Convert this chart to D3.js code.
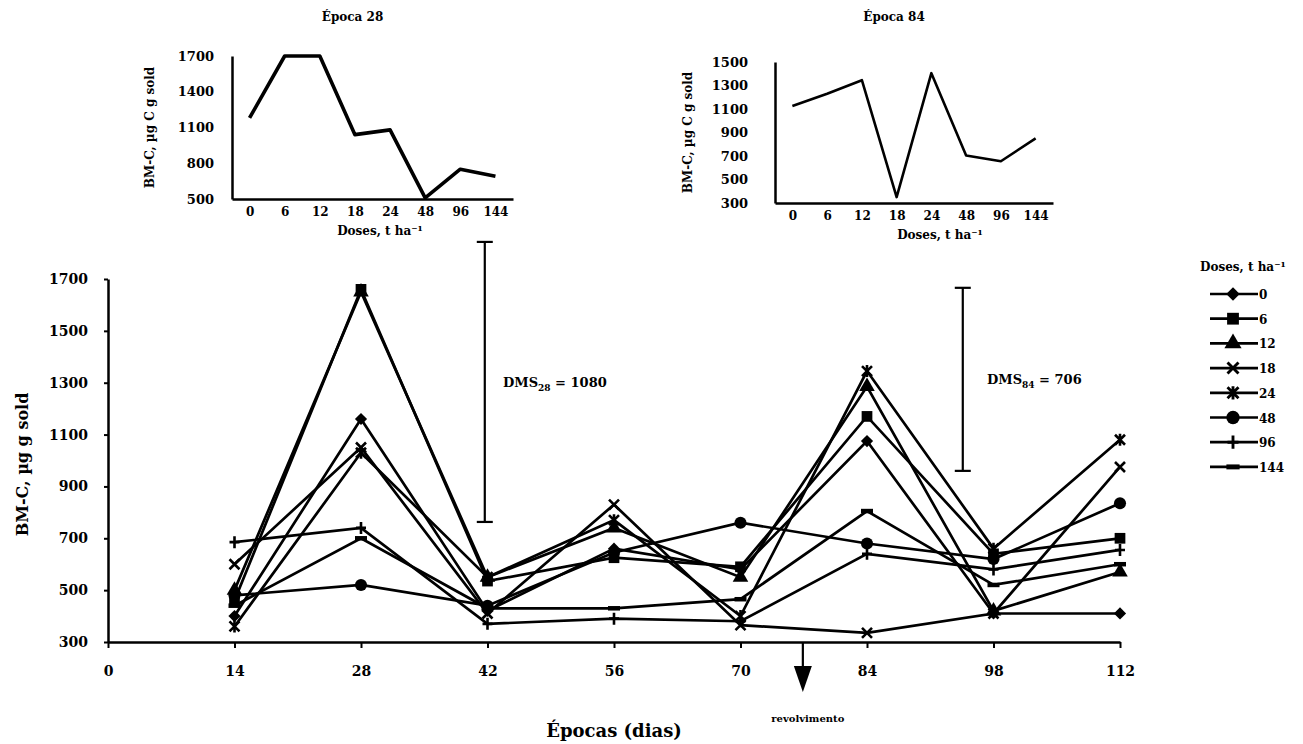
<!DOCTYPE html>
<html>
<head>
<meta charset="utf-8">
<script src="https://cdn.jsdelivr.net/npm/d3@7"></script>
<style>
  body { margin: 0; background: #fff; }
  text { font-family: 'DejaVu Serif', serif; font-weight: bold; fill: #000; }
</style>
</head>
<body>
<script>
// epocas (dias) on the main chart
const epocas = [14, 28, 42, 56, 70, 84, 98, 112];
const doses = ["0", "6", "12", "18", "24", "48", "96", "144"];

// BM-C per dose, one value per epoca
const dose0 = [400, 1160, 420, 660, 580, 1075, 410, 410];
const dose6 = [460, 1660, 535, 625, 590, 1170, 640, 700];
const dose12 = [500, 1650, 550, 740, 550, 1285, 420, 570];
const dose18 = [600, 1050, 410, 830, 365, 335, 410, 975];
const dose24 = [360, 1030, 550, 770, 400, 1345, 660, 1080];
const dose48 = [480, 520, 440, 645, 760, 680, 620, 835];
const dose96 = [685, 740, 370, 390, 380, 640, 580, 655];
const dose144 = [440, 700, 430, 430, 465, 805, 520, 600];

// insets: BM-C by dose at epoca 28 and 84
const inset28 = [1180, 1700, 1700, 1040, 1080, 510, 750, 690];
const inset84 = [1125, 1230, 1345, 350, 1405, 705, 655, 850];

const mainYTicks = [300, 500, 700, 900, 1100, 1300, 1500, 1700];
const mainXTicks = [0, 14, 28, 42, 56, 70, 84, 98, 112];
const inset28Ticks = [500, 800, 1100, 1400, 1700];
const inset84Ticks = [300, 500, 700, 900, 1100, 1300, 1500];

const allSeries = [dose0, dose6, dose12, dose18, dose24, dose48, dose96, dose144];
const markers = ["diamond", "square", "triangle", "x", "star", "circle", "plus", "dash"];

const fmt = d3.format("d");

const svg = d3.select("body").append("svg")
	.attr("width", 1303)
	.attr("height", 744);

// draws one marker shape at (x, y)
let drawMarker = function (g, kind, x, y, s) {
	s = s || 1;
	let t = `translate(${x},${y}) scale(${s})`;
	if (kind === "diamond") g.append("path").attr("d", d3.symbol(d3.symbolDiamond2, 95)()).attr("transform", t);
	else if (kind === "square") g.append("path").attr("d", d3.symbol(d3.symbolSquare, 115)()).attr("transform", t);
	else if (kind === "triangle") g.append("path").attr("d", d3.symbol(d3.symbolTriangle, 105)()).attr("transform", t);
	else if (kind === "circle") g.append("path").attr("d", d3.symbol(d3.symbolCircle, 115)()).attr("transform", t);
	else {
		let d = "";
		if (kind === "x") d = "M-5,-5L5,5M-5,5L5,-5";
		if (kind === "star") d = "M-5,-5L5,5M-5,5L5,-5M0,-6L0,6";
		if (kind === "plus") d = "M0,-6L0,6M-5,0L5,0";
		if (kind === "dash") d = "M-6,0L6,0";
		g.append("path").attr("d", d).attr("transform", t)
			.style("fill", "none").style("stroke", "#000")
			.style("stroke-width", kind === "dash" ? 4.5 : 2.6);
	}
};

//--------------- main chart
const x = d3.scaleLinear().domain([0, 112]).range([108, 1120]);
const y = d3.scaleLinear().domain([300, 1700]).range([642, 279]);

const main = svg.append("g");

main.append("g")
	.attr("transform", `translate(${x(0)},0)`)
	.call(d3.axisLeft(y).tickValues(mainYTicks).tickFormat(fmt).tickSize(4).tickSizeOuter(0).tickPadding(16))
	.call(g => g.selectAll("text").style("font-size", "14px").style("font-family", "'DejaVu Serif', serif"))
	.call(g => g.select(".domain").style("stroke-width", 2.5))
	.call(g => g.selectAll(".tick line").style("stroke-width", 2));

main.append("g")
	.attr("transform", `translate(0,${y(300)})`)
	.call(d3.axisBottom(x).tickValues(mainXTicks).tickFormat(fmt).tickSize(6).tickSizeOuter(0).tickPadding(18))
	.call(g => g.selectAll("text").style("font-size", "14px").style("font-family", "'DejaVu Serif', serif"))
	.call(g => g.select(".domain").style("stroke-width", 2.5))
	.call(g => g.selectAll(".tick line").style("stroke-width", 2));

main.append("text")
	.attr("transform", `translate(28,${(y(300) + y(1700)) / 2 + 4}) rotate(-90)`)
	.attr("text-anchor", "middle")
	.style("font-size", "16px")
	.text("BM-C, µg g sold");

main.append("text")
	.attr("x", (x(0) + x(112)) / 2)
	.attr("y", 737)
	.attr("text-anchor", "middle")
	.style("font-size", "18px")
	.text("Épocas (dias)");

let line = d3.line().x((d, i) => x(epocas[i])).y(d => y(d));

allSeries.forEach(function (s) {
	main.append("path")
		.datum(s)
		.attr("d", line)
		.style("fill", "none")
		.style("stroke", "#000")
		.style("stroke-width", 2.7);
});
allSeries.forEach(function (s, k) {
	s.forEach((v, i) => drawMarker(main, markers[k], x(epocas[i]), y(v)));
});

// DMS bars
let dmsBar = function (xv, low, len, label, sub, tx) {
	let g = main.append("g");
	g.append("line").attr("x1", x(xv)).attr("x2", x(xv)).attr("y1", y(low)).attr("y2", y(low + len));
	g.append("line").attr("x1", x(xv) - 8).attr("x2", x(xv) + 8).attr("y1", y(low)).attr("y2", y(low));
	g.append("line").attr("x1", x(xv) - 8).attr("x2", x(xv) + 8).attr("y1", y(low + len)).attr("y2", y(low + len));
	g.selectAll("line").style("stroke", "#000").style("stroke-width", 2.2);
	let t = g.append("text")
		.attr("x", tx)
		.attr("y", y(low + len / 2) + 5)
		.style("font-size", "13px");
	t.append("tspan").text("DMS");
	t.append("tspan").attr("dy", 4).style("font-size", "9px").text(sub);
	t.append("tspan").attr("dy", -4).text(" = " + label);
};
dmsBar(41.7, 763, 1080, "1080", "28", 503);
dmsBar(94.6, 960, 706, "706", "84", 987);

// revolvimento arrow
const ax = x(76.9);
main.append("line")
	.attr("x1", ax).attr("x2", ax)
	.attr("y1", y(300)).attr("y2", 668)
	.style("stroke", "#000").style("stroke-width", 2.2);
main.append("path")
	.attr("d", `M${ax - 9},666L${ax + 9},666L${ax},692Z`)
	.style("fill", "#000");
main.append("text")
	.attr("x", ax + 5)
	.attr("y", 722)
	.attr("text-anchor", "middle")
	.style("font-size", "10px")
	.text("revolvimento");

// legend
const leg = svg.append("g");
leg.append("text")
	.attr("x", 1200).attr("y", 271)
	.style("font-size", "12px")
	.text("Doses, t ha⁻¹");
doses.forEach(function (d, i) {
	let yy = 294 + i * 24.7;
	leg.append("line")
		.attr("x1", 1210).attr("x2", 1258)
		.attr("y1", yy).attr("y2", yy)
		.style("stroke", "#000").style("stroke-width", 2.7);
	drawMarker(leg, markers[i], 1233, yy, 1.1);
	leg.append("text")
		.attr("x", 1259).attr("y", yy + 5)
		.style("font-size", "12px")
		.text(d);
});

//--------------- insets
let inset = function (vals, ticks, dom, xr, yr, lw, pad, title, tx, ty) {
	let xs = d3.scalePoint().domain(doses).range(xr).padding(0.5);
	let ys = d3.scaleLinear().domain(dom).range(yr);
	let g = svg.append("g");

	g.append("g")
		.attr("transform", `translate(${xr[0]},0)`)
		.call(d3.axisLeft(ys).tickValues(ticks).tickFormat(fmt).tickSize(0).tickPadding(pad))
		.call(a => a.selectAll("text").style("font-size", "13px").style("font-family", "'DejaVu Serif', serif"))
		.call(a => a.select(".domain").style("stroke-width", 2.5));

	g.append("g")
		.attr("transform", `translate(0,${yr[0]})`)
		.call(d3.axisBottom(xs).tickSize(0).tickSizeOuter(0).tickPadding(8))
		.call(a => a.selectAll("text").style("font-size", "12px").style("font-family", "'DejaVu Serif', serif"))
		.call(a => a.select(".domain").style("stroke-width", 2.5));

	g.append("path")
		.datum(vals)
		.attr("d", d3.line().x((d, i) => xs(doses[i])).y(d => ys(d)))
		.style("fill", "none")
		.style("stroke", "#000")
		.style("stroke-width", lw)
		.style("stroke-linejoin", "round");

	g.append("text")
		.attr("x", (xr[0] + xr[1]) / 2 - 20).attr("y", 21)
		.attr("text-anchor", "middle")
		.style("font-size", "12px")
		.text(title);

	g.append("text")
		.attr("x", tx).attr("y", yr[0] + 36)
		.attr("text-anchor", "middle")
		.style("font-size", "12px")
		.text("Doses, t ha⁻¹");

	g.append("text")
		.attr("transform", `translate(${ty},${(yr[0] + yr[1]) / 2}) rotate(-90)`)
		.attr("text-anchor", "middle")
		.style("font-size", "12px")
		.text("BM-C, µg C g sold");
};

inset(inset28, inset28Ticks, [500, 1700], [232, 513], [199, 56], 3.6, 18, "Época 28", 380, 154);
inset(inset84, inset84Ticks, [300, 1500], [775, 1053], [203, 62], 2.6, 27, "Época 84", 940, 692);
</script>
</body>
</html>
